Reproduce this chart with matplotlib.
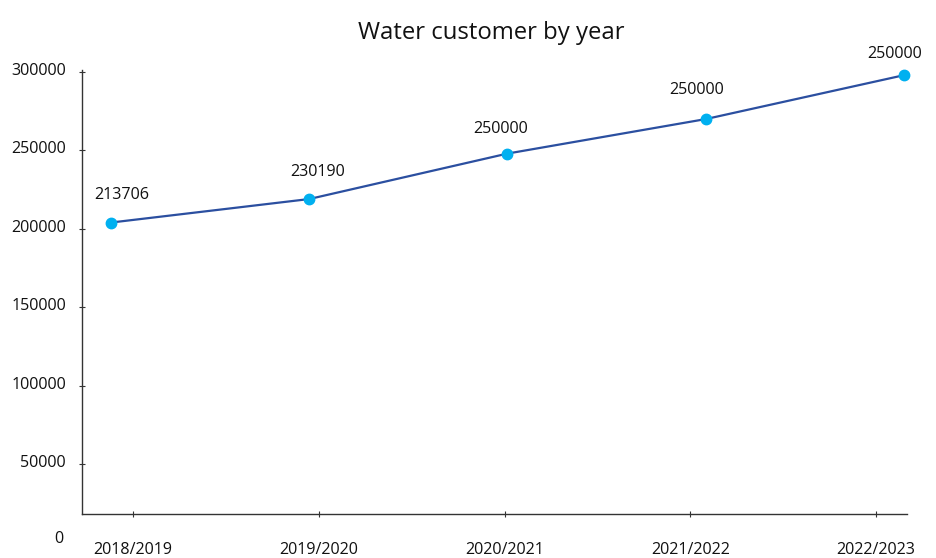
import numpy as np
import matplotlib.pyplot as plt
from matplotlib.transforms import ScaledTranslation

plt.rcParams['font.family'] = ['Open Sans', 'DejaVu Sans']

# data
years = ['2018/2019', '2019/2020', '2020/2021', '2021/2022', '2022/2023']
customers = [204000, 219000, 248000, 270000, 298000]
point_labels = ['213706', '230190', '250000', '250000', '250000']
yticks = [50000, 100000, 150000, 200000, 250000, 300000]

# layout: label offsets in pixels, tick positions shifted relative to points
label_offsets = [(11, 28), (8, 27), (-7, 25), (-9, 29), (-9, 21)]
tick_pos = [0.111 + 0.937 * i for i in range(len(years))]

fig = plt.figure(figsize=(9.36, 5.58), dpi=100)
ax = fig.add_axes([82 / 936, 44 / 558, 825 / 936, 444 / 558])

x = np.arange(len(customers))
ax.plot(x, customers, color='#2B4FA0', lw=1.6, marker='o', ms=7.5,
        mfc='#00B0F0', mec='#00B0F0', clip_on=False, zorder=3)

for xi, yi, lab, (dx, dy) in zip(x, customers, point_labels, label_offsets):
    ax.annotate(lab, (xi, yi), xytext=(dx * 0.72, dy * 0.72), textcoords='offset points',
                ha='center', va='center', fontsize=11.6, color='#111111')

ax.set_xlim(-0.146, 4.015)
ax.set_ylim(18112, 301300)

ax.set_xticks(tick_pos)
ax.set_xticklabels(years)
ax.set_yticks(yticks)
ax.set_yticklabels([str(v) for v in yticks])
ax.tick_params(axis='both', direction='inout', length=5, width=0.8, color='#333333',
               labelsize=11.6, labelcolor='#111111')
ax.tick_params(axis='x', pad=18)
ax.tick_params(axis='y', pad=9)
shift = ScaledTranslation(0, 3 / 100, fig.dpi_scale_trans)
for lbl in ax.get_yticklabels():
    lbl.set_transform(lbl.get_transform() + shift)

# zero label sits below the axis line
ax.text(-19 / 825, 0, '0', transform=ax.get_yaxis_transform() + shift, ha='right', va='center',
        fontsize=11.6, color='#111111', clip_on=False)

for s in ['top', 'right']:
    ax.spines[s].set_visible(False)
for s in ['left', 'bottom']:
    ax.spines[s].set_color('#333333')
    ax.spines[s].set_linewidth(1.0)

fig.text(491 / 936, 1 - 33 / 558, 'Water customer by year', ha='center', va='center',
         fontsize=17.2, color='#111111')

fig.savefig('out.png', dpi=100)
